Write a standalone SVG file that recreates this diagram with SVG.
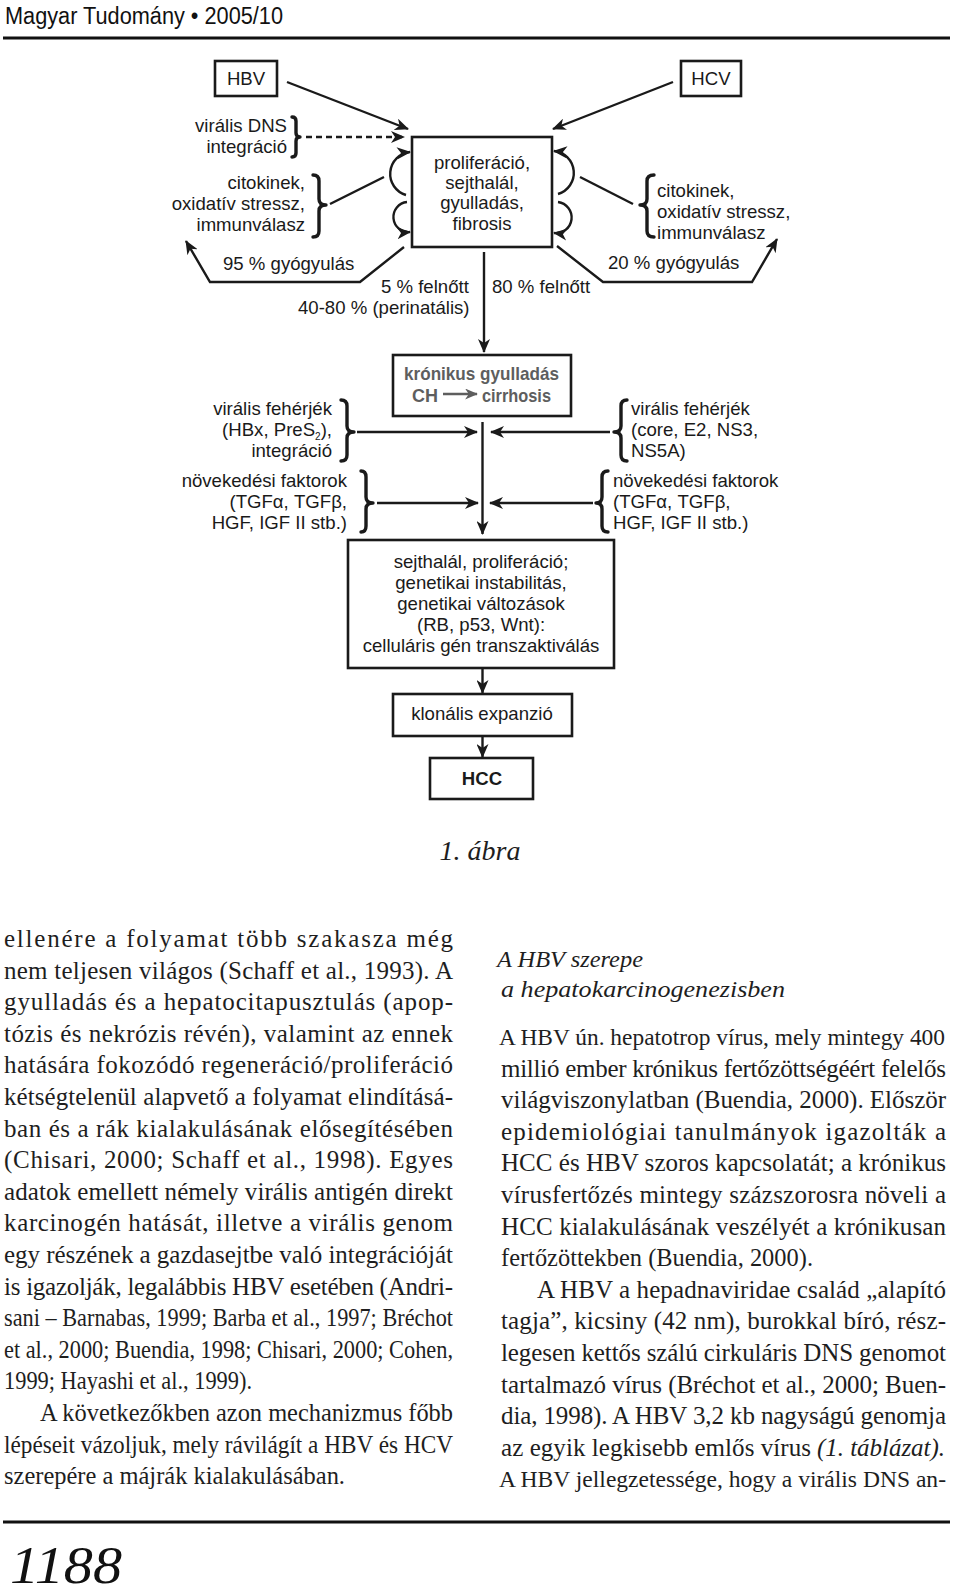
<svg xmlns="http://www.w3.org/2000/svg" width="960" height="1591" viewBox="0 0 960 1591">
<defs>
<style>
.d{font-family:"Liberation Sans",Arial,sans-serif;font-size:18.6px;fill:#1a1a1a}
.m{text-anchor:middle}
.e{text-anchor:end}
.g{font-weight:bold;fill:#5e5e5e}
.box{fill:#fff;stroke:#1a1a1a;stroke-width:2.6}
.ln{fill:none;stroke:#1a1a1a;stroke-width:2.4}
.br{fill:none;stroke:#1a1a1a;stroke-width:3.4;stroke-linejoin:round;stroke-linecap:round}
.b{font-family:"Liberation Serif","Times New Roman",serif;font-size:25px;fill:#1e1e1e}
.i{font-style:italic}
.rule{stroke:#111;stroke-width:3}
</style>
<marker id="ah" markerUnits="userSpaceOnUse" markerWidth="14" markerHeight="12" viewBox="0 0 14 12" refX="13" refY="6" orient="auto">
<path d="M0,0 L14,6 L0,12 L4,6 z" fill="#1a1a1a"/>
</marker>
<marker id="ahg" markerUnits="userSpaceOnUse" markerWidth="13" markerHeight="11" viewBox="0 0 14 12" refX="13" refY="6" orient="auto">
<path d="M0,0 L14,6 L0,12 L4,6 z" fill="#5e5e5e"/>
</marker>
</defs>
<rect width="960" height="1591" fill="#fff"/>

<!-- header -->
<text x="5" y="24" font-family="'Liberation Sans',Arial,sans-serif" font-size="23" fill="#111" textLength="278" lengthAdjust="spacingAndGlyphs">Magyar Tudomány • 2005/10</text>
<line class="rule" x1="3" y1="38" x2="950" y2="38"/>

<!-- nodes -->
<g id="hbv"><rect class="box" x="215" y="61" width="62" height="35"/><text class="d m" x="246" y="85">HBV</text></g>
<g id="hcv"><rect class="box" x="681" y="61" width="60" height="35"/><text class="d m" x="711" y="85">HCV</text></g>
<g id="main"><rect class="box" x="412" y="137" width="140" height="110"/>
<text class="d m" x="482" y="169">proliferáció,</text>
<text class="d m" x="482" y="189">sejthalál,</text>
<text class="d m" x="482" y="209">gyulladás,</text>
<text class="d m" x="482" y="230">fibrosis</text></g>

<g id="hbv-dns"><text class="d e" x="287" y="132">virális DNS</text><text class="d e" x="287" y="153">integráció</text>
<path class="br" d="M292,117 Q296,117 296,121 L296,133 Q296,137 300,137 Q296,137 296,141 L296,153 Q296,157 292,157"/></g>
<g id="hbv-cito"><text class="d e" x="305" y="189">citokinek,</text><text class="d e" x="305" y="210">oxidatív stressz,</text><text class="d e" x="305" y="231">immunválasz</text>
<path class="br" d="M313,175 Q319,175 319,181 L319,199 Q319,205 326,205 Q319,205 319,211 L319,231 Q319,237 313,237"/></g>
<g id="hcv-cito"><text class="d" x="657" y="197">citokinek,</text><text class="d" x="657" y="218">oxidatív stressz,</text><text class="d" x="657" y="239">immunválasz</text>
<path class="br" d="M654,175 Q647,175 647,181 L647,199 Q647,205 640,205 Q647,205 647,211 L647,231 Q647,237 654,237"/></g>

<g id="labels">
<text class="d" x="223" y="270">95 % gyógyulás</text>
<text class="d" x="608" y="269">20 % gyógyulás</text>
<text class="d" x="381" y="293">5 % felnőtt</text>
<text class="d" x="298" y="314">40-80 % (perinatális)</text>
<text class="d" x="492" y="293">80 % felnőtt</text>
</g>

<g id="chronic"><rect class="box" x="393" y="355" width="178" height="61"/>
<text class="d m g" x="481.5" y="380" textLength="155" lengthAdjust="spacingAndGlyphs">krónikus gyulladás</text>
<text class="d g" x="412" y="402" textLength="26" lengthAdjust="spacingAndGlyphs">CH</text>
<line x1="443" y1="394" x2="477" y2="394" stroke="#5e5e5e" stroke-width="2.6" marker-end="url(#ahg)"/>
<text class="d g" x="482" y="402" textLength="69" lengthAdjust="spacingAndGlyphs">cirrhosis</text></g>

<g id="hbv-prot"><text class="d e" x="332" y="415">virális fehérjék</text><text class="d e" x="332" y="436">(HBx, PreS<tspan font-size="10" dy="4">2</tspan><tspan dy="-4">),</tspan></text><text class="d e" x="332" y="457">integráció</text>
<path class="br" d="M341,400 Q347,400 347,406 L347,426 Q347,432 354,432 Q347,432 347,438 L347,455 Q347,461 341,461"/></g>
<g id="hbv-gf"><text class="d e" x="347" y="487">növekedési faktorok</text><text class="d e" x="347" y="508">(TGFα, TGFβ,</text><text class="d e" x="347" y="529">HGF, IGF II stb.)</text>
<path class="br" d="M361,471 Q366,471 366,477 L366,497 Q366,503 373,503 Q366,503 366,509 L366,526 Q366,532 361,532"/></g>
<g id="hcv-prot"><text class="d" x="631" y="415">virális fehérjék</text><text class="d" x="631" y="436">(core, E2, NS3,</text><text class="d" x="631" y="457">NS5A)</text>
<path class="br" d="M627,400 Q621,400 621,406 L621,426 Q621,432 614,432 Q621,432 621,438 L621,455 Q621,461 627,461"/></g>
<g id="hcv-gf"><text class="d" x="613" y="487">növekedési faktorok</text><text class="d" x="613" y="508">(TGFα, TGFβ,</text><text class="d" x="613" y="529">HGF, IGF II stb.)</text>
<path class="br" d="M608,471 Q602,471 602,477 L602,497 Q602,503 596,503 Q602,503 602,509 L602,526 Q602,532 608,532"/></g>

<g id="effects"><rect class="box" x="348" y="540" width="266" height="128"/>
<text class="d m" x="481" y="568">sejthalál, proliferáció;</text>
<text class="d m" x="481" y="589">genetikai instabilitás,</text>
<text class="d m" x="481" y="610">genetikai változások</text>
<text class="d m" x="481" y="631">(RB, p53, Wnt):</text>
<text class="d m" x="481" y="652">celluláris gén transzaktiválás</text></g>

<g id="clonal"><rect class="box" x="393" y="694" width="179" height="42"/><text class="d m" x="482" y="720">klonális expanzió</text></g>
<g id="hcc"><rect class="box" x="430" y="758" width="103" height="41"/><text class="d m" x="482" y="785" font-weight="bold">HCC</text></g>

<!-- connectors -->
<g id="connectors">
<line class="ln" x1="287" y1="82" x2="408" y2="129" marker-end="url(#ah)"/>
<line class="ln" x1="673" y1="82" x2="553" y2="129" marker-end="url(#ah)"/>
<line class="ln" x1="306" y1="137" x2="404" y2="137" stroke-dasharray="6,4" marker-end="url(#ah)"/>
<path class="ln" d="M406,195 A22,22 0 0 1 410,152" marker-end="url(#ah)"/>
<path class="ln" d="M407,202 A15,15 0 0 0 410,232" marker-end="url(#ah)"/>
<path class="ln" d="M558,194 A22,22 0 0 0 554,151" marker-end="url(#ah)"/>
<path class="ln" d="M558,202 A15.5,15.5 0 0 1 554,233" marker-end="url(#ah)"/>
<line class="ln" x1="330" y1="204" x2="384" y2="177"/>
<line class="ln" x1="580" y1="177" x2="633" y2="204"/>
<polyline class="ln" points="404,247 360,282 210,282 186,241" marker-end="url(#ah)"/>
<polyline class="ln" points="557,246 603,282 752,282 777,239" marker-end="url(#ah)"/>
<line class="ln" x1="484" y1="252" x2="484" y2="352" marker-end="url(#ah)"/>
<line class="ln" x1="482.5" y1="422" x2="482.5" y2="534" marker-end="url(#ah)"/>
<line class="ln" x1="357" y1="432" x2="477" y2="432" marker-end="url(#ah)"/>
<line class="ln" x1="377" y1="503" x2="478" y2="503" marker-end="url(#ah)"/>
<line class="ln" x1="610" y1="432" x2="491" y2="432" marker-end="url(#ah)"/>
<line class="ln" x1="593" y1="503" x2="490" y2="503" marker-end="url(#ah)"/>
<line class="ln" x1="482.5" y1="668" x2="482.5" y2="693" marker-end="url(#ah)"/>
<line class="ln" x1="482.5" y1="736" x2="482.5" y2="757" marker-end="url(#ah)"/>
</g>

<text x="480" y="860" font-family="'Liberation Serif','Times New Roman',serif" font-size="28" font-style="italic" fill="#1e1e1e" text-anchor="middle">1. ábra</text>

<!-- body text left column -->
<g id="col-left" class="b">
<text x="4" y="947" textLength="449" lengthAdjust="spacing">ellenére a folyamat több szakasza még</text>
<text x="4" y="978.6" textLength="449" lengthAdjust="spacing">nem teljesen világos (Schaff et al., 1993). A</text>
<text x="4" y="1010.2" textLength="449" lengthAdjust="spacing">gyulladás és a hepatocitapusztulás (apop-</text>
<text x="4" y="1041.8" textLength="449" lengthAdjust="spacing">tózis és nekrózis révén), valamint az ennek</text>
<text x="4" y="1073.4" textLength="449" lengthAdjust="spacing">hatására fokozódó regeneráció/proliferáció</text>
<text x="4" y="1105" textLength="449" lengthAdjust="spacing">kétségtelenül alapvető a folyamat elindításá-</text>
<text x="4" y="1136.6" textLength="449" lengthAdjust="spacing">ban és a rák kialakulásának elősegítésében</text>
<text x="4" y="1168.2" textLength="449" lengthAdjust="spacing">(Chisari, 2000; Schaff et al., 1998). Egyes</text>
<text x="4" y="1199.8" textLength="449" lengthAdjust="spacing">adatok emellett némely virális antigén direkt</text>
<text x="4" y="1231.4" textLength="449" lengthAdjust="spacing">karcinogén hatását, illetve a virális genom</text>
<text x="4" y="1263" textLength="449" lengthAdjust="spacing">egy részének a gazdasejtbe való integrációját</text>
<text x="4" y="1294.6" textLength="449" lengthAdjust="spacing">is igazolják, legalábbis HBV esetében (Andri-</text>
<text x="4" y="1326.2" textLength="449" lengthAdjust="spacingAndGlyphs">sani – Barnabas, 1999; Barba et al., 1997; Bréchot</text>
<text x="4" y="1357.8" textLength="449" lengthAdjust="spacingAndGlyphs">et al., 2000; Buendia, 1998; Chisari, 2000; Cohen,</text>
<text x="4" y="1389.4" textLength="248" lengthAdjust="spacingAndGlyphs">1999; Hayashi et al., 1999).</text>
<text x="40" y="1421" textLength="413" lengthAdjust="spacingAndGlyphs">A következőkben azon mechanizmus főbb</text>
<text x="4" y="1452.6" textLength="449" lengthAdjust="spacingAndGlyphs">lépéseit vázoljuk, mely rávilágít a HBV és HCV</text>
<text x="4" y="1484.2" textLength="341" lengthAdjust="spacingAndGlyphs">szerepére a májrák kialakulásában.</text>
</g>

<!-- body text right column -->
<g id="col-right" class="b">
<text class="i" x="497" y="967" font-size="24" textLength="146" lengthAdjust="spacingAndGlyphs">A HBV szerepe</text>
<text class="i" x="501" y="997" font-size="24" textLength="284" lengthAdjust="spacingAndGlyphs">a hepatokarcinogenezisben</text>
<text x="499" y="1045" font-size="24" textLength="446" lengthAdjust="spacingAndGlyphs">A HBV ún. hepatotrop vírus, mely mintegy 400</text>
<text x="501" y="1076.6" textLength="445" lengthAdjust="spacing">millió ember krónikus fertőzöttségéért felelős</text>
<text x="501" y="1108.2" textLength="445" lengthAdjust="spacing">világviszonylatban (Buendia, 2000). Először</text>
<text x="501" y="1139.8" textLength="445" lengthAdjust="spacing">epidemiológiai tanulmányok igazolták a</text>
<text x="501" y="1171.4" textLength="445" lengthAdjust="spacing">HCC és HBV szoros kapcsolatát; a krónikus</text>
<text x="501" y="1203" textLength="445" lengthAdjust="spacing">vírusfertőzés mintegy százszorosra növeli a</text>
<text x="501" y="1234.6" textLength="445" lengthAdjust="spacing">HCC kialakulásának veszélyét a krónikusan</text>
<text x="501" y="1266.2" textLength="312" lengthAdjust="spacingAndGlyphs">fertőzöttekben (Buendia, 2000).</text>
<text x="537" y="1297.8" textLength="409" lengthAdjust="spacing">A HBV a hepadnaviridae család „alapító</text>
<text x="501" y="1329.4" textLength="445" lengthAdjust="spacing">tagja”, kicsiny (42 nm), burokkal bíró, rész-</text>
<text x="501" y="1361" textLength="445" lengthAdjust="spacing">legesen kettős szálú cirkuláris DNS genomot</text>
<text x="501" y="1392.6" textLength="445" lengthAdjust="spacing">tartalmazó vírus (Bréchot et al., 2000; Buen-</text>
<text x="501" y="1424.2" textLength="445" lengthAdjust="spacing">dia, 1998). A HBV 3,2 kb nagyságú genomja</text>
<text x="501" y="1455.8" textLength="310" lengthAdjust="spacing">az egyik legkisebb emlős vírus</text>
<text class="i" x="817" y="1455.8" textLength="128" lengthAdjust="spacing">(1. táblázat).</text>
<text x="499" y="1487.4" font-size="23.5" textLength="447" lengthAdjust="spacingAndGlyphs">A HBV jellegzetessége, hogy a virális DNS an-</text>
</g>

<!-- footer -->
<line class="rule" x1="3" y1="1522" x2="950" y2="1522"/>
<text x="10" y="1583" font-family="'Liberation Serif','Times New Roman',serif" font-size="53" font-style="italic" fill="#111" textLength="112" lengthAdjust="spacingAndGlyphs">1188</text>
</svg>
